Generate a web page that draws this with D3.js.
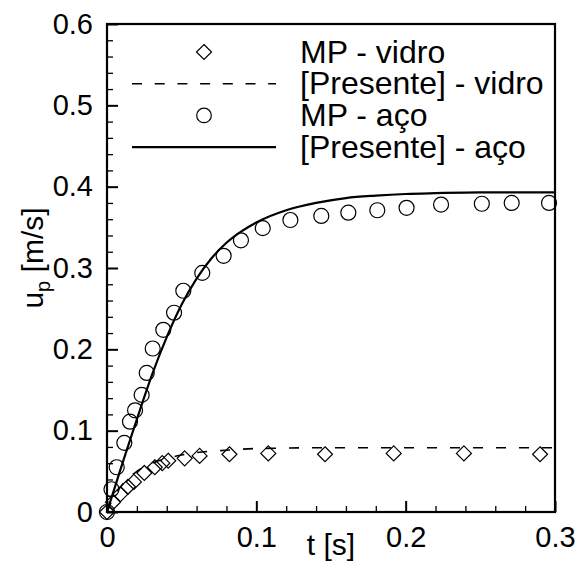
<!DOCTYPE html>
<html>
<head>
<meta charset="utf-8">
<script src="https://cdn.jsdelivr.net/npm/d3@7"></script>
<style>
  body { margin: 0; background: #fff; }
  text { font-family: "Liberation Sans", Arial, sans-serif; fill: #000; }
</style>
</head>
<body>
<script>
// MP - vidro (diamonds)
const vidroT = [0, 0.004, 0.009, 0.014, 0.018, 0.025, 0.032, 0.037, 0.041, 0.052, 0.062, 0.082, 0.108, 0.146, 0.192, 0.239, 0.290];
const vidroU = [0, 0.012, 0.022, 0.031, 0.037, 0.048, 0.055, 0.060, 0.063, 0.066, 0.069, 0.071, 0.072, 0.071, 0.072, 0.072, 0.071];

// MP - aço (circles)
const acoT = [0, 0.003, 0.0065, 0.0116, 0.0154, 0.0188, 0.0232, 0.0266, 0.0306, 0.0377, 0.0449, 0.0511, 0.0638, 0.0781, 0.0897, 0.1043, 0.1228, 0.1435, 0.1616, 0.181, 0.2006, 0.2237, 0.251, 0.271, 0.296];
const acoU = [0, 0.028, 0.055, 0.085, 0.111, 0.125, 0.144, 0.171, 0.201, 0.224, 0.245, 0.272, 0.294, 0.315, 0.334, 0.349, 0.359, 0.364, 0.368, 0.371, 0.374, 0.378, 0.379, 0.380, 0.380];

// [Presente] - vidro (dashed)
const presVidroT = [0, 0.005, 0.01, 0.02, 0.03, 0.04, 0.05, 0.06, 0.08, 0.10, 0.15, 0.30];
const presVidroU = [0, 0.020, 0.033, 0.050, 0.060, 0.066, 0.070, 0.073, 0.076, 0.078, 0.079, 0.079];

// [Presente] - aço (solid)
const presAcoT = [0, 0.01, 0.02, 0.03, 0.04, 0.05, 0.06, 0.07, 0.08, 0.09, 0.10, 0.12, 0.14, 0.16, 0.18, 0.20, 0.22, 0.25, 0.30];
const presAcoU = [0, 0.058, 0.114, 0.168, 0.215, 0.255, 0.287, 0.312, 0.331, 0.345, 0.356, 0.371, 0.380, 0.386, 0.389, 0.391, 0.392, 0.393, 0.393];

const xTicks = [0, 0.1, 0.2, 0.3];
const yTicks = [0, 0.1, 0.2, 0.3, 0.4, 0.5, 0.6];
const legendLabels = ["MP - vidro", "[Presente] - vidro", "MP - aço", "[Presente] - aço"];

const w = 579, h = 562;
const m = { left: 107, right: 555, top: 24, bottom: 512 };

const x = d3.scaleLinear().domain([0, 0.3]).range([m.left, m.right]);
const y = d3.scaleLinear().domain([0, 0.6]).range([m.bottom, m.top]);

const svg = d3.select("body").append("svg")
  .attr("width", w)
  .attr("height", h);

const zip = (a, b) => a.map((v, i) => [v, b[i]]);

// minor ticks every 0.02
const xMinor = d3.range(0, 0.3001, 0.02).filter(v => Math.abs(v * 10 - Math.round(v * 10)) > 1e-6);
const yMinor = d3.range(0, 0.6001, 0.02).filter(v => Math.abs(v * 10 - Math.round(v * 10)) > 1e-6);

const fmt = d => d === 0 ? "0" : d3.format(".1f")(d);

svg.append("g")
  .attr("transform", "translate(0," + m.bottom + ")")
  .call(d3.axisBottom(x).tickValues(xMinor).tickSize(-6).tickFormat(""))
  .call(g => g.select(".domain").remove())
  .call(g => g.selectAll("line").attr("stroke-width", 1.3));

svg.append("g")
  .attr("transform", "translate(" + m.left + ",0)")
  .call(d3.axisLeft(y).tickValues(yMinor).tickSize(-6).tickFormat(""))
  .call(g => g.select(".domain").remove())
  .call(g => g.selectAll("line").attr("stroke-width", 1.3));

const xAxis = svg.append("g")
  .attr("transform", "translate(0," + m.bottom + ")")
  .call(d3.axisBottom(x).tickValues(xTicks).tickSize(-11).tickPadding(14).tickFormat(fmt));
xAxis.select(".domain").remove();
xAxis.selectAll("line").attr("stroke-width", 2);
xAxis.selectAll("text").style("font-size", "29px").style("font-family", "'Liberation Sans', Arial, sans-serif");

const yAxis = svg.append("g")
  .attr("transform", "translate(" + m.left + ",0)")
  .call(d3.axisLeft(y).tickValues(yTicks).tickSize(-11).tickPadding(14).tickFormat(fmt));
yAxis.select(".domain").remove();
yAxis.selectAll("line").attr("stroke-width", 2);
yAxis.selectAll("text").style("font-size", "29px").style("font-family", "'Liberation Sans', Arial, sans-serif");

// frame
svg.append("rect")
  .attr("x", m.left).attr("y", m.top)
  .attr("width", m.right - m.left).attr("height", m.bottom - m.top)
  .attr("fill", "none").attr("stroke", "#000").attr("stroke-width", 2.2);

const line = d3.line().x(d => x(d[0])).y(d => y(d[1])).curve(d3.curveMonotoneX);

svg.append("path")
  .datum(zip(presVidroT, presVidroU))
  .attr("d", line)
  .attr("fill", "none").attr("stroke", "#000")
  .attr("stroke-width", 1.6).attr("stroke-dasharray", "10,13");

svg.append("path")
  .datum(zip(presAcoT, presAcoU))
  .attr("d", line)
  .attr("fill", "none").attr("stroke", "#000")
  .attr("stroke-width", 2.2);

const diamond = (cx, cy, s) => `M${cx},${cy - s}L${cx + s},${cy}L${cx},${cy + s}L${cx - s},${cy}Z`;

svg.append("g").selectAll("path")
  .data(zip(vidroT, vidroU))
  .enter().append("path")
  .attr("d", d => diamond(x(d[0]), y(d[1]), 7.5))
  .attr("fill", "none").attr("stroke", "#000").attr("stroke-width", 1.2);

svg.append("g").selectAll("circle")
  .data(zip(acoT, acoU))
  .enter().append("circle")
  .attr("cx", d => x(d[0]))
  .attr("cy", d => y(d[1]))
  .attr("r", 7.5)
  .attr("fill", "none").attr("stroke", "#000").attr("stroke-width", 1.2);

// legend
const lg = svg.append("g");
const rowY = i => 52 + i * 31.7;
legendLabels.forEach((lab, i) => {
  lg.append("text")
    .attr("x", 300).attr("y", rowY(i) + 10.5)
    .style("font-size", "32px")
    .text(lab);
});
lg.append("path").attr("d", diamond(204, rowY(0), 7.5))
  .attr("fill", "none").attr("stroke", "#000").attr("stroke-width", 1.2);
lg.append("line").attr("x1", 132).attr("x2", 276).attr("y1", rowY(1)).attr("y2", rowY(1))
  .attr("stroke", "#000").attr("stroke-width", 1.6).attr("stroke-dasharray", "10,12.7");
lg.append("circle").attr("cx", 204).attr("cy", rowY(2)).attr("r", 7.3)
  .attr("fill", "none").attr("stroke", "#000").attr("stroke-width", 1.2);
lg.append("line").attr("x1", 132).attr("x2", 276).attr("y1", rowY(3)).attr("y2", rowY(3))
  .attr("stroke", "#000").attr("stroke-width", 2.2);

// axis titles
svg.append("text")
  .attr("x", 331).attr("y", 555)
  .attr("text-anchor", "middle")
  .style("font-size", "30px")
  .text("t [s]");

const yt = svg.append("text")
  .attr("transform", "translate(43,258) rotate(-90)")
  .attr("text-anchor", "middle")
  .style("font-size", "30px");
yt.append("tspan").text("u");
yt.append("tspan").attr("dy", 7).style("font-size", "20px").text("p");
yt.append("tspan").attr("dy", -7).text(" [m/s]");
</script>
</body>
</html>
